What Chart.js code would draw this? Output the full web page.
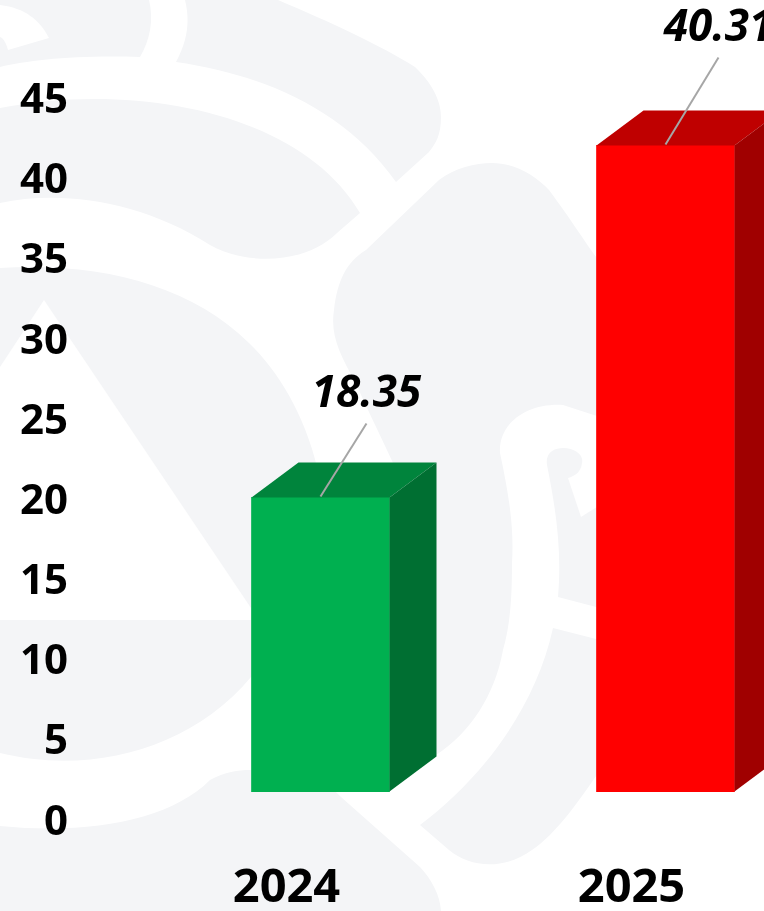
<!DOCTYPE html>
<html><head><meta charset="utf-8">
<style>
html,body{margin:0;padding:0;background:#fff;overflow:hidden;width:764px;height:911px}
#wrap{position:relative;width:764px;height:911px;overflow:hidden}
#bg{position:absolute;left:0;top:0}
#c{position:absolute;left:0;top:-4px}
</style>
<script src="https://cdn.jsdelivr.net/npm/chart.js@4/dist/chart.umd.min.js"></script>
</head><body>
<div id="wrap">
<svg id="bg" width="764" height="911" viewBox="0 0 764 911" fill="#f4f5f7">
<path d="M0 67C30 60 75 55 140 57C150 40 154 20 149 0H0Z"/>
<path d="M0 5C25 8 40 20 49 38L8 50C6 42 3 38 0 37Z" fill="#fff"/>
<path d="M185 0H278C330 22 380 45 415 67C436 87 441 105 441 117C441 135 436 143 429 152L396 182C345 110 265 75 176 62C188 40 190 20 185 0Z"/>
<path d="M0 108C130 82 300 110 360 213L337 233C305 265 245 265 210 245C140 200 60 190 0 203Z"/>
<path d="M0 268C100 262 190 285 249 343C280 373 308 420 320 480V660L251 677C190 750 90 775 0 753Z"/>
<path d="M492 163C515 163 535 175 549 190C575 225 590 250 600 262V417L563 405C525 403 498 425 500 453C510 500 514 530 512 563C512 600 510 625 503 650C495 695 470 733 436 755H395L393 463C378 430 365 405 356 383C340 355 330 335 334 310C338 275 350 260 366 250L439 180C455 168 475 163 492 163Z"/>
<path d="M420 825C480 780 535 710 553 628L600 640V770C580 800 555 835 532 850C505 870 470 868 449 850Z"/>
<path d="M547 465C545 452 555 448 563 448C575 448 584 455 582 463C581 472 575 476 568 478L581 517L600 505V608L558 597C562 550 556 510 547 465Z"/>
<path d="M250 770C290 762 320 775 341 797L420 867C432 880 440 895 441 911H0V826C90 835 170 820 210 780C225 772 238 770 250 770Z"/>
<path d="M44 300L251 608V620H0V367Z" fill="#fff"/>
</svg>
<canvas id="c" width="880" height="965" style="width:880px;height:965px"></canvas>
</div>
<script>
const categories = ['2024', '2025'];
const values = [18.35, 40.31];
const tickLabels = [0, 5, 10, 15, 20, 25, 30, 35, 40, 45];
const frontColors = ['#00b050', '#ff0000'];
const topColors = ['#00843c', '#bf0000'];
const sideColors = ['#006f32', '#a00000'];
const leaderColor = '#a6a6a6';

const depthX = 47, depthY = 35;
const labelShiftX = [46, 53], labelShiftY = [-103, -117];
const leaderShiftX = [46, 53], leaderShiftY = [-74, -88];
const FONT = '"Open Sans","Liberation Sans",sans-serif';

const box3d = {
  id: 'box3d',
  afterDatasetsDraw(chart) {
    const ctx = chart.ctx;
    const meta = chart.getDatasetMeta(0);
    meta.data.forEach((bar, i) => {
      const left = bar.x - bar.width / 2, right = bar.x + bar.width / 2;
      const top = bar.y, bottom = bar.base;
      ctx.save();
      ctx.fillStyle = topColors[i];
      ctx.beginPath();
      ctx.moveTo(left, top); ctx.lineTo(left + depthX, top - depthY);
      ctx.lineTo(right + depthX, top - depthY); ctx.lineTo(right, top);
      ctx.closePath(); ctx.fill();
      ctx.fillStyle = sideColors[i];
      ctx.beginPath();
      ctx.moveTo(right, top); ctx.lineTo(right + depthX, top - depthY);
      ctx.lineTo(right + depthX, bottom - depthY); ctx.lineTo(right, bottom);
      ctx.closePath(); ctx.fill();
      ctx.strokeStyle = leaderColor; ctx.lineWidth = 2;
      ctx.beginPath();
      ctx.moveTo(bar.x, top - 1);
      ctx.lineTo(bar.x + leaderShiftX[i], top + leaderShiftY[i]);
      ctx.stroke();
      ctx.fillStyle = '#000';
      ctx.font = 'italic 700 44px ' + FONT;
      ctx.textAlign = 'center'; ctx.textBaseline = 'middle';
      ctx.fillText(values[i].toFixed(2), bar.x + labelShiftX[i], top + labelShiftY[i]);
      ctx.restore();
    });
  }
};

new Chart(document.getElementById('c'), {
  type: 'bar',
  data: {
    labels: categories,
    datasets: [{
      data: values,
      backgroundColor: frontColors,
      borderWidth: 0,
      barThickness: 138,
      yAxisID: 'yBar'
    }]
  },
  options: {
    responsive: false,
    animation: false,
    layout: { padding: { top: 93, bottom: 6, left: 0, right: 42 } },
    plugins: { legend: { display: false }, tooltip: { enabled: false } },
    scales: {
      x: {
        grid: { display: false, drawTicks: false },
        border: { display: false },
        ticks: { color: '#000', padding: 38, labelOffset: -34, maxRotation: 0, font: { family: FONT, weight: 700, size: 47 } }
      },
      y: {
        position: 'left',
        min: 0, max: 45,
        afterFit(s) { s.width = 148; },
        afterBuildTicks(s) { s.ticks = tickLabels.map(v => ({ value: v })); },
        grid: { display: false, drawTicks: false },
        border: { display: false },
        ticks: { color: '#000', padding: 80, font: { family: FONT, weight: 700, size: 42 } }
      },
      yBar: {
        display: false,
        min: -31 / 16.04,
        max: 45 - 31 / 16.04
      }
    }
  },
  plugins: [box3d]
});
</script>
</body></html>
